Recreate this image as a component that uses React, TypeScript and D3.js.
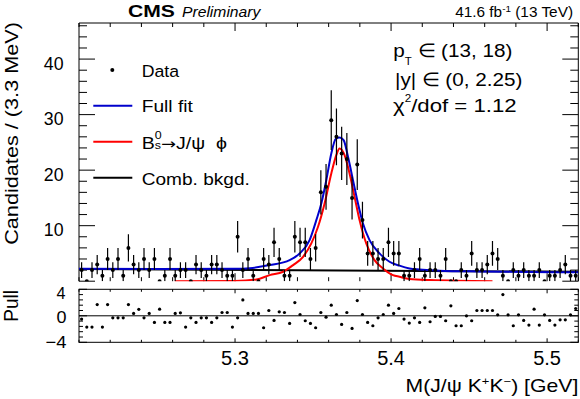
import React from 'react';
import * as d3 from 'd3';

// ---------- data ----------
const massRange = [5.2, 5.52];
const counts = [
  2, 0, 2, 3, 1, 4, 2, 4, 1, 6, 3, 2, 4, 2, 4, 0, 1, 4, 1, 2,
  2, 0, 3, 2, 1, 3, 3, 2, 1, 1, 8, 2, 4, 1, 0, 4, 3, 7, 4, 1,
  1, 8, 7, 7, 4, 6, 16, 17, 29, 26, 23, 22, 15, 21, 11, 5, 5, 4, 4, 7,
  5, 5, 1, 1, 2, 4, 1, 2, 2, 1, 4, 0, 0, 2, 1, 5, 2, 2, 3, 5,
  4, 1, 0, 2, 1, 2, 1, 1, 2, 0, 1, 1, 2, 3, 1, 1,
];
const pulls = [
  -0.5, -1.7, -1.7, 1.7, -1.7, 1.7, -0.3, -0.3, -0.3, 1.7, 0.36, 0.97, -0.3, 0.36, -1.0, 1.0, -1.0, -1.0, 0.36, 0.45,
  -1.7, -0.3, -1.0, -0.3, -0.3, -1.0, -0.3, 0.5, 0.5, -1.7, -0.3, 2.4, 0.36, 0.36, 0.36, -1.8, 0.8, -0.7, 0.6, 0.5,
  -1.15, 2.0, 0.2, -0.75, -1.15, -1.8, 0.5, -0.2, 1.6, 0.2, -1.3, 0.5, -1.9, 2.3, 0.2, -1.0, -1.5, -0.3, 0.2, 1.6,
  0.36, 1.1, -0.5, -1.1, -0.3, -1.0, 1.2, -0.9, -0.1, -0.1, -0.75, 1.5, -1.5, -1.5, 0, -0.75, 0.8, 0.8, 0.8, 0.8,
  0.15, 3.2, 0.15, -1.5, 0.15, -0.7, -1.4, 1.0, -1.4, 0.15, -0.7, -1.4, -0.6, -0.6, 0.15, 1.1,
];
const fullFitMass = [5.2, 5.25, 5.3, 5.3094, 5.3222, 5.335, 5.3414, 5.3478, 5.3521, 5.3553, 5.3585, 5.3617, 5.3645, 5.367, 5.3696, 5.3724, 5.3756, 5.3788, 5.382, 5.3862, 5.3926, 5.399, 5.4054, 5.4118, 5.4182, 5.431, 5.4566, 5.52];
const fullFitVal = [2.25, 2.2, 2.25, 2.35, 2.9, 3.8, 5.0, 7.4, 11.0, 14.0, 18.2, 23.0, 25.6, 25.9, 25.4, 22.4, 18.2, 14.0, 10.4, 7.4, 5.0, 3.5, 2.8, 2.3, 2.1, 1.9, 1.75, 1.6];
const sigMass = [5.2614, 5.30, 5.3137, 5.3222, 5.3308, 5.3372, 5.3436, 5.3489, 5.3532, 5.3574, 5.3617, 5.3649, 5.367, 5.3702, 5.3734, 5.3766, 5.3798, 5.3841, 5.3894, 5.3948, 5.4012, 5.4054, 5.4118, 5.4246, 5.465];
const sigVal = [0, 0.05, 0.3, 1.1, 1.7, 2.9, 4.4, 6.8, 9.8, 14.0, 19.4, 22.7, 23.9, 22.7, 19.4, 15.2, 11.0, 6.8, 3.8, 2.3, 1.1, 0.8, 0.4, 0.2, 0];
const bkgMass = [5.2, 5.52];
const bkgVal = [2.2, 1.7];

const xMajor = [5.3, 5.4, 5.5];
const yMajor = [10, 20, 30, 40];
const pullMajor = [-4, 0, 4];

const FONT = "'Liberation Sans', Arial, Helvetica, sans-serif";

type FTProps = {
  x: number; y: number; w: number; size: number;
  anchor?: 'start' | 'middle' | 'end'; rotate?: boolean;
  weight?: string; italic?: boolean; children: React.ReactNode;
};

// text stretched horizontally to a target width (reference glyphs are wider than tall)
function FitText({ x, y, w, size, anchor = 'start', rotate = false, weight, italic, children }: FTProps) {
  const ref = React.useRef<SVGTextElement>(null);
  const [s, setS] = React.useState(1);
  React.useLayoutEffect(() => {
    if (ref.current) {
      const bw = ref.current.getBBox().width;
      if (bw > 0) setS(w / bw);
    }
  }, [w]);
  return (
    <g transform={`translate(${x},${y})${rotate ? ' rotate(-90)' : ''} scale(${s},1)`}>
      <text ref={ref} textAnchor={anchor} fontSize={size} fontWeight={weight} fontStyle={italic ? 'italic' : undefined}>
        {children}
      </text>
    </g>
  );
}

export default function App() {
  const L = 79, R = 578.3;
  const mainTop = 23, mainBot = 281.2;
  const pullTop = 289.3, pullBot = 342.3;

  const x = d3.scaleLinear().domain(massRange).range([L, R]);
  const y = d3.scaleLinear().domain([0, 46.5]).range([mainBot, mainTop]);
  const yp = d3.scaleLinear().domain([-4, 4]).range([pullBot, pullTop]);

  const nb = counts.length;
  const bw = (massRange[1] - massRange[0]) / nb;
  const centers = counts.map((_, i) => massRange[0] + (i + 0.5) * bw);

  const xMinor = d3.range(5.2, 5.5201, 0.02).map((v) => +v.toFixed(3));
  const yMinor = d3.range(0, 46.5, 2);
  const pMinor = d3.range(-4, 4.01, 0.8).map((v) => +v.toFixed(2));

  const line = d3.line<[number, number]>().x((d) => x(d[0])).y((d) => y(d[1])).curve(d3.curveMonotoneX);
  const fullPath = line(fullFitMass.map((m, i) => [m, fullFitVal[i]]) as [number, number][]) || '';
  const sigPath = line(sigMass.map((m, i) => [m, sigVal[i]]) as [number, number][]) || '';
  const bkgPath = d3.line<[number, number]>().x((d) => x(d[0])).y((d) => y(d[1]))(bkgMass.map((m, i) => [m, bkgVal[i]]) as [number, number][]) || '';

  return (
    <svg width={580} height={399} style={{ position: 'absolute', left: 0, top: 0, background: '#fff' }} fontFamily={FONT}>
      <defs>
        <clipPath id="mainclip">
          <rect x={L} y={mainTop} width={R - L} height={mainBot - mainTop} />
        </clipPath>
        <clipPath id="pullclip">
          <rect x={L} y={pullTop} width={R - L} height={pullBot - pullTop} />
        </clipPath>
      </defs>
      <rect x={0} y={0} width={580} height={399} fill="#fff" />

      {/* main frame (top, left, right) */}
      <path d={`M${L},${mainBot}V${mainTop}H${R}V${mainBot}`} fill="none" stroke="#000" strokeWidth={1} />
      {yMinor.map((v) => {
        const len = v % 10 === 0 ? 16 : 8;
        return (
          <g key={'ym' + v}>
            <line x1={L} x2={L + len} y1={y(v)} y2={y(v)} stroke="#000" />
            <line x1={R} x2={R - len} y1={y(v)} y2={y(v)} stroke="#000" />
          </g>
        );
      })}
      {xMinor.map((v) => {
        const major = xMajor.some((m) => Math.abs(m - v) < 1e-6);
        const len = major ? 8 : 4;
        return (
          <g key={'xm' + v}>
            <line x1={x(v)} x2={x(v)} y1={mainTop} y2={mainTop + len} stroke="#000" />
            <line x1={x(v)} x2={x(v)} y1={mainBot} y2={mainBot - len} stroke="#000" />
          </g>
        );
      })}
      {yMajor.map((v) => (
        <FitText key={'yl' + v} x={63.5} y={y(v) + 10.8} w={20} size={17.5} anchor="end">{v}</FitText>
      ))}
      <FitText x={18} y={22} w={223} size={19} anchor="end" rotate>Candidates / (3.3 MeV)</FitText>

      {/* curves */}
      <g clipPath="url(#mainclip)" fill="none">
        <path d={bkgPath} stroke="#000" strokeWidth={2} />
        <path d={sigPath} stroke="#ff0000" strokeWidth={2} />
        <path d={fullPath} stroke="#0000cc" strokeWidth={2} />
      </g>

      {/* data points */}
      <g clipPath="url(#mainclip)">
        {counts.map((c, i) => {
          const cx = x(centers[i]);
          const e = Math.sqrt(c);
          return (
            <g key={'d' + i}>
              {c > 0 && <line x1={cx} x2={cx} y1={y(c - e)} y2={y(c + e)} stroke="#000" strokeWidth={1.2} />}
              <circle cx={cx} cy={y(c)} r={2} fill="#000" />
            </g>
          );
        })}
      </g>

      {/* legend */}
      <circle cx={112.3} cy={70} r={2} fill="#000" />
      <FitText x={141.7} y={76.7} w={38.3} size={16.5}>Data</FitText>
      <line x1={93.3} x2={132.3} y1={105.7} y2={105.7} stroke="#0000cc" strokeWidth={2} />
      <FitText x={141.7} y={111.7} w={51.6} size={16.5}>Full fit</FitText>
      <line x1={93.3} x2={132.3} y1={141.7} y2={141.7} stroke="#ff0000" strokeWidth={2} />
      <FitText x={141.7} y={149} w={85.3} size={16.5}>
        B<tspan dy={-10.2} fontSize={10.5}>0</tspan><tspan dx={-5.8} dy={10} fontSize={10.5}>s</tspan>
        <tspan dy={0.2} fontFamily="'DejaVu Sans', sans-serif" fontSize={15}>→</tspan>
        <tspan>J/ψ{'\u00A0\u00A0'}{'\u03D5'}</tspan>
      </FitText>
      <line x1={93.3} x2={132.3} y1={177.7} y2={177.7} stroke="#000" strokeWidth={2} />
      <FitText x={141.7} y={185} w={108.3} size={16.5}>Comb. bkgd.</FitText>

      {/* info text */}
      <FitText x={393.3} y={57.3} w={120} size={19}>
        p<tspan dy={7.7} fontSize={10.5}>T</tspan><tspan dy={-7.7}>{' \u2208 (13, 18)'}</tspan>
      </FitText>
      <FitText x={395} y={86} w={128.3} size={19}>{'|y| \u2208 (0, 2.25)'}</FitText>
      <FitText x={393} y={111.7} w={123.7} size={19}>
        χ<tspan dy={-10} fontSize={10}>2</tspan><tspan dy={10}>/dof = 1.12</tspan>
      </FitText>

      {/* header */}
      <FitText x={128} y={16.7} w={47} size={16.5} weight="bold">CMS</FitText>
      <FitText x={182} y={16.7} w={80} size={15} italic>Preliminary</FitText>
      <FitText x={573} y={17.3} w={118} size={14} anchor="end">
        41.6 fb<tspan dy={-5.5} fontSize={9}>-1</tspan><tspan dy={5.5}> (13 TeV)</tspan>
      </FitText>

      {/* pull panel */}
      <rect x={L} y={pullTop} width={R - L} height={pullBot - pullTop} fill="none" stroke="#000" />
      <line x1={L} x2={R} y1={yp(0)} y2={yp(0)} stroke="#000" />
      {pMinor.map((v) => {
        const major = pullMajor.some((m) => Math.abs(m - v) < 1e-6);
        const len = major ? 8 : 4;
        return (
          <g key={'pm' + v}>
            <line x1={L} x2={L + len} y1={yp(v)} y2={yp(v)} stroke="#000" />
            <line x1={R} x2={R - len} y1={yp(v)} y2={yp(v)} stroke="#000" />
          </g>
        );
      })}
      {xMinor.map((v) => {
        const major = xMajor.some((m) => Math.abs(m - v) < 1e-6);
        const len = major ? 4 : 2.5;
        return (
          <g key={'px' + v}>
            <line x1={x(v)} x2={x(v)} y1={pullTop} y2={pullTop + len} stroke="#000" />
            <line x1={x(v)} x2={x(v)} y1={pullBot} y2={pullBot - len} stroke="#000" />
          </g>
        );
      })}
      <g clipPath="url(#pullclip)">
        {pulls.map((p, i) => (
          <circle key={'p' + i} cx={x(centers[i])} cy={yp(p)} r={1.6} fill="#000" />
        ))}
      </g>
      <FitText x={65.5} y={299.3} w={9} size={17} anchor="end">4</FitText>
      <FitText x={66.5} y={323.3} w={10} size={17} anchor="end">0</FitText>
      <FitText x={66.5} y={348.3} w={21} size={17} anchor="end">−4</FitText>
      <FitText x={18.3} y={290} w={31.7} size={20} anchor="end" rotate>Pull</FitText>

      {/* x labels */}
      {xMajor.map((v) => (
        <FitText key={'xl' + v} x={x(v)} y={365} w={28} size={19.5} anchor="middle">{v.toFixed(1)}</FitText>
      ))}
      <FitText x={578.3} y={392} w={173} size={18} anchor="end">
        M(J/ψ K<tspan dy={-7} fontSize={11}>+</tspan><tspan dy={7}>K</tspan><tspan dy={-7} fontSize={11}>−</tspan><tspan dy={7}>) [GeV]</tspan>
      </FitText>
    </svg>
  );
}
